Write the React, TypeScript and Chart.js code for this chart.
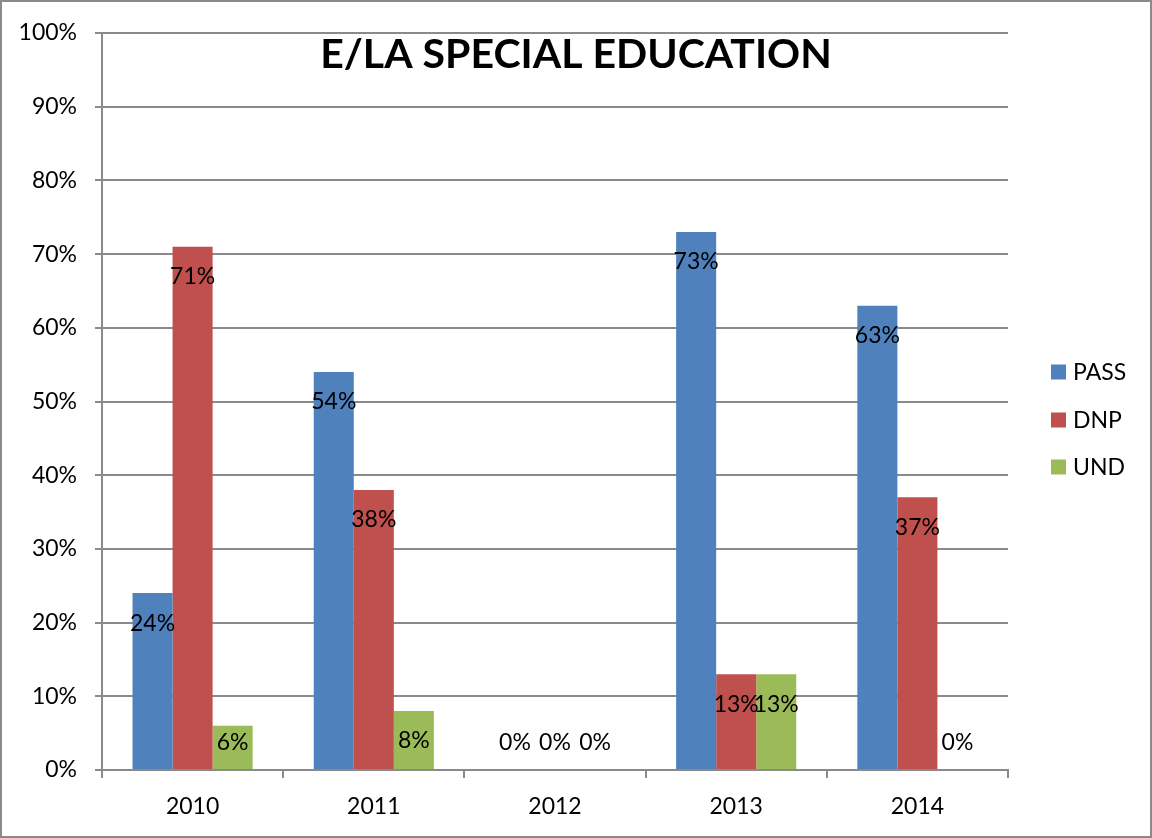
import React, { useEffect, useRef } from "react";
import { Chart, registerables } from "chart.js";

Chart.register(...registerables);

const categories = ["2010", "2011", "2012", "2013", "2014"];
const passValues = [24, 54, 0, 73, 63];
const dnpValues = [71, 38, 0, 13, 37];
const undValues = [6, 8, 0, 13, 0];
const seriesNames = ["PASS", "DNP", "UND"];
const seriesColors = ["#4F81BD", "#C0504D", "#9BBB59"];
const titleText = "E/LA SPECIAL EDUCATION";

const FONT = "Lato, 'Open Sans', sans-serif";
const TXT = 23;

const overlayPlugin = {
  id: "overlay",
  afterDatasetsDraw(chart: any) {
    const ctx = chart.ctx;
    const yScale = chart.scales.y;
    const base = yScale.getPixelForValue(0);
    ctx.save();
    ctx.fillStyle = "#000";
    ctx.font = `${TXT}px ${FONT}`;
    ctx.textAlign = "center";
    ctx.textBaseline = "middle";
    chart.data.datasets.forEach((ds: any, di: number) => {
      const meta = chart.getDatasetMeta(di);
      meta.data.forEach((bar: any, i: number) => {
        const v = ds.data[i];
        const y = Math.min(bar.y + 30, base - 27);
        ctx.fillText(`${v}%`, bar.x, y);
      });
    });
    ctx.restore();
  },
  afterDraw(chart: any) {
    const ctx = chart.ctx;
    ctx.save();
    ctx.fillStyle = "#000";
    ctx.font = `bold 41px ${FONT}`;
    ctx.textAlign = "center";
    ctx.textBaseline = "middle";
    ctx.fillText(titleText, chart.width / 2, 55);
    ctx.font = `${TXT}px ${FONT}`;
    ctx.textAlign = "left";
    const ys = [372, 420, 467];
    seriesNames.forEach((name, i) => {
      ctx.fillStyle = seriesColors[i];
      ctx.fillRect(1051, ys[i] - 7.5, 15, 15);
      ctx.fillStyle = "#000";
      ctx.fillText(name, 1073, ys[i] + 1);
    });
    ctx.strokeStyle = "#8a8a8a";
    ctx.lineWidth = 2;
    ctx.strokeRect(1, 1, chart.width - 2, chart.height - 2);
    ctx.restore();
  },
};

export default function App() {
  const ref = useRef<HTMLCanvasElement | null>(null);
  useEffect(() => {
    if (!ref.current) return;
    const chart = new Chart(ref.current, {
      type: "bar",
      data: {
        labels: categories,
        datasets: [
          { label: seriesNames[0], data: passValues, backgroundColor: seriesColors[0] },
          { label: seriesNames[1], data: dnpValues, backgroundColor: seriesColors[1] },
          { label: seriesNames[2], data: undValues, backgroundColor: seriesColors[2] },
        ],
      },
      options: {
        responsive: false,
        animation: false,
        devicePixelRatio: 1,
        layout: { padding: { top: 33, right: 144, left: 0, bottom: 0 } },
        datasets: { bar: { categoryPercentage: 0.663, barPercentage: 1 } },
        plugins: {
          legend: { display: false },
          title: { display: false },
          tooltip: { enabled: false },
        },
        scales: {
          x: {
            grid: {
              offset: true,
              drawOnChartArea: false,
              drawTicks: true,
              tickLength: 8,
              color: "#8a8a8a",
              lineWidth: 2,
            },
            border: { color: "#8a8a8a", width: 2 },
            ticks: {
              color: "#000",
              font: { family: FONT, size: TXT },
              padding: 15,
            },
            afterFit(scale: any) {
              scale.height = 68;
            },
          },
          y: {
            min: 0,
            max: 100,
            ticks: {
              stepSize: 10,
              color: "#000",
              font: { family: FONT, size: TXT },
              padding: 18,
              callback: (v: any) => `${v}%`,
            },
            grid: {
              color: "#8a8a8a",
              lineWidth: 2,
              tickLength: 7,
            },
            border: { color: "#8a8a8a", width: 2 },
            afterFit(scale: any) {
              scale.width = 102;
            },
          },
        },
      },
      plugins: [overlayPlugin],
    });
    return () => chart.destroy();
  }, []);
  return (
    <div style={{ position: "fixed", left: 0, top: 0, width: 1152, height: 838, background: "#fff" }}>
      <canvas ref={ref} width={1152} height={838} />
    </div>
  );
}
